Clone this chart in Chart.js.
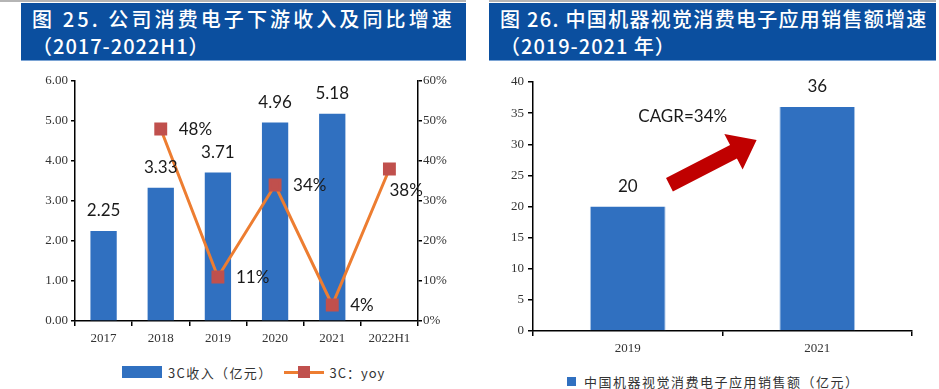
<!DOCTYPE html>
<html>
<head>
<meta charset="utf-8">
<script src="https://cdn.jsdelivr.net/npm/chart.js@4.4.0/dist/chart.umd.min.js"></script>
<style>
  body { margin: 0; background: #fff; width: 939px; height: 389px; position: relative; overflow: hidden; }
  .topline { position: absolute; top: 0; height: 2px; background: #b5b5b5; }
  .head { position: absolute; top: 3px; height: 57px; background: #0b4f9f; border-bottom: 1px solid #7aa3d4;
          color: #fff; font-family: "Noto Sans CJK SC", sans-serif; font-weight: 500; font-size: 20px; }
  .head div { position: absolute; left: 11px; white-space: nowrap; line-height: 24px; }
  .box { position: absolute; }
  .legend { position: absolute; font-family: "Noto Sans CJK SC", sans-serif; font-size: 13px; color: #333; white-space: nowrap; }
  .legend span { display: inline-block; vertical-align: middle; }
</style>
</head>
<body>
<div class="topline" style="left:0;width:466px"></div>
<div class="topline" style="left:489px;width:447px"></div>

<div class="head" style="left:21px;width:445px">
  <div style="top:4px;letter-spacing:3.1px">图 25. 公司消费电子下游收入及同比增速</div>
  <div style="top:31px;letter-spacing:1px">（2017-2022H1）</div>
</div>
<div class="head" style="left:489px;width:447px">
  <div style="top:4px;letter-spacing:1.3px">图 26. 中国机器视觉消费电子应用销售额增速</div>
  <div style="top:31px;letter-spacing:1px">（2019-2021 年）</div>
</div>

<div class="box" style="left:0;top:62px;width:470px;height:289px"><canvas id="c1"></canvas></div>
<div class="box" style="left:470px;top:62px;width:469px;height:299px"><canvas id="c2"></canvas></div>

<div class="legend" style="left:122px;top:361px">
  <span style="width:40px;height:12px;background:#3070c0"></span>
  <span style="margin-left:3px;letter-spacing:1.4px">3C收入（亿元）</span>
  <span style="margin-left:8px;width:40px;height:12px;position:relative">
    <span style="position:absolute;left:0;top:5px;width:40px;height:3px;background:#ed7d31"></span>
    <span style="position:absolute;left:14px;top:0;width:12px;height:12px;background:#c0504d"></span>
  </span>
  <span style="margin-left:3px;letter-spacing:1px">3C：yoy</span>
</div>
<div class="legend" style="left:567px;top:370px">
  <span style="width:9px;height:9px;background:#3070c0"></span>
  <span style="margin-left:5px;letter-spacing:1.5px">中国机器视觉消费电子应用销售额（亿元）</span>
</div>

<script>
const years1 = ['2017', '2018', '2019', '2020', '2021', '2022H1'];
const revenue3C = [2.25, 3.33, 3.71, 4.96, 5.18, null];
const yoy3C = [null, 48, 11, 34, 4, 38];

const years2 = ['2019', '2021'];
const visionSales = [20, 36];
const cagrText = 'CAGR=34%';
// arrow annotation, given in data space (category index, value)
const arrowFrom = { x: 0.22, y: 23.5 };
const arrowTo = { x: 0.68, y: 30.7 };

const tickFont = { family: '"Liberation Serif", serif', size: 13 };
const labelFont = '17px Lato, sans-serif';

function fixWidth(w) { return scale => { scale.width = w; }; }
function fixHeight(h) { return scale => { scale.height = h; }; }

const valueLabels = {
  id: 'valueLabels',
  afterDatasetsDraw(chart) {
    const ctx = chart.ctx;
    ctx.save();
    ctx.font = labelFont;
    ctx.fillStyle = '#1a1a1a';
    chart.data.datasets.forEach((ds, i) => {
      const meta = chart.getDatasetMeta(i);
      meta.data.forEach((el, j) => {
        const v = ds.data[j];
        if (v == null) return;
        if (ds.type === 'line') {
          ctx.textAlign = 'left';
          ctx.textBaseline = 'middle';
          const last = j === ds.data.length - 1;
          ctx.fillText(v + '%', el.x + (last ? 0 : 18), el.y + (last ? 22 : 1));
        } else {
          ctx.textAlign = 'center';
          ctx.textBaseline = 'middle';
          ctx.fillText(ds.decimals ? v.toFixed(ds.decimals) : String(v), el.x, el.y - 20);
        }
      });
    });
    ctx.restore();
  }
};

const axisBase = {
  border: { color: '#000', width: 1.5 },
  grid: { drawOnChartArea: false, color: '#000', tickColor: '#000', lineWidth: 1.5 },
  ticks: { font: tickFont, color: '#333' }
};

new Chart(document.getElementById('c1'), {
  type: 'bar',
  data: {
    labels: years1,
    datasets: [
      {
        type: 'line',
        label: '3C：yoy',
        data: yoy3C,
        yAxisID: 'y1',
        borderColor: '#ed7d31',
        borderWidth: 3,
        backgroundColor: '#c0504d',
        pointStyle: 'rect',
        pointRadius: 7,
        pointBorderColor: '#c0504d',
        pointBackgroundColor: '#c0504d',
        order: 0
      },
      {
        type: 'bar',
        label: '3C收入（亿元）',
        data: revenue3C,
        decimals: 2,
        backgroundColor: '#3070c0',
        categoryPercentage: 1,
        barPercentage: 0.46,
        order: 1
      }
    ]
  },
  options: {
    responsive: true,
    maintainAspectRatio: false,
    animation: false,
    layout: { padding: { top: 19, left: 0, right: 0, bottom: 0 } },
    plugins: { legend: { display: false }, tooltip: { enabled: false } },
    scales: {
      x: {
        ...axisBase,
        grid: { ...axisBase.grid, offset: true, tickLength: 5 },
        ticks: { ...axisBase.ticks, padding: 5, maxRotation: 0 },
        afterFit: fixHeight(30)
      },
      y: {
        ...axisBase,
        position: 'left',
        min: 0, max: 6,
        grid: { ...axisBase.grid, tickLength: 4 },
        ticks: { ...axisBase.ticks, stepSize: 1, padding: 3, callback: v => v.toFixed(2) },
        afterFit: fixWidth(75)
      },
      y1: {
        ...axisBase,
        position: 'right',
        min: 0, max: 60,
        grid: { ...axisBase.grid, tickLength: 4 },
        ticks: { ...axisBase.ticks, stepSize: 10, padding: 1, callback: v => v + '%' },
        afterFit: fixWidth(52)
      }
    }
  },
  plugins: [valueLabels]
});

const arrowNote = {
  id: 'arrowNote',
  afterDatasetsDraw(chart) {
    const { ctx, scales: { x, y } } = chart;
    const x0 = x.getPixelForValue(arrowFrom.x), y0 = y.getPixelForValue(arrowFrom.y);
    const x1 = x.getPixelForValue(arrowTo.x), y1 = y.getPixelForValue(arrowTo.y);
    const len = Math.hypot(x1 - x0, y1 - y0);
    const dx = (x1 - x0) / len, dy = (y1 - y0) / len;
    const nx = -dy, ny = dx;
    const shaft = 7.5, head = 20, headLen = 26;
    const bx = x1 - dx * headLen, by = y1 - dy * headLen;
    ctx.save();
    ctx.fillStyle = '#c00000';
    ctx.beginPath();
    ctx.moveTo(x0 + nx * shaft, y0 + ny * shaft);
    ctx.lineTo(bx + nx * shaft, by + ny * shaft);
    ctx.lineTo(bx + nx * head, by + ny * head);
    ctx.lineTo(x1, y1);
    ctx.lineTo(bx - nx * head, by - ny * head);
    ctx.lineTo(bx - nx * shaft, by - ny * shaft);
    ctx.lineTo(x0 - nx * shaft, y0 - ny * shaft);
    ctx.closePath();
    ctx.fill();
    ctx.font = labelFont;
    ctx.fillStyle = '#1a1a1a';
    ctx.textAlign = 'center';
    ctx.textBaseline = 'middle';
    ctx.fillText(cagrText, x.getPixelForValue(0.29), y.getPixelForValue(34.5));
    ctx.restore();
  }
};

new Chart(document.getElementById('c2'), {
  type: 'bar',
  data: {
    labels: years2,
    datasets: [{
      label: '中国机器视觉消费电子应用销售额（亿元）',
      data: visionSales,
      backgroundColor: '#3070c0',
      borderColor: '#a9c4e6',
      borderWidth: { left: 1, right: 1, top: 0, bottom: 0 },
      categoryPercentage: 1,
      barPercentage: 0.4
    }]
  },
  options: {
    responsive: true,
    maintainAspectRatio: false,
    animation: false,
    layout: { padding: { top: 20, left: 0, right: 27, bottom: 0 } },
    plugins: { legend: { display: false }, tooltip: { enabled: false } },
    scales: {
      x: {
        ...axisBase,
        grid: { ...axisBase.grid, offset: true, tickLength: 5 },
        ticks: { ...axisBase.ticks, padding: 5, maxRotation: 0 },
        afterFit: fixHeight(30)
      },
      y: {
        ...axisBase,
        min: 0, max: 40,
        grid: { ...axisBase.grid, tickLength: 5 },
        ticks: { ...axisBase.ticks, stepSize: 5, padding: 4 },
        afterFit: fixWidth(63)
      }
    }
  },
  plugins: [valueLabels, arrowNote]
});
</script>
</body>
</html>
